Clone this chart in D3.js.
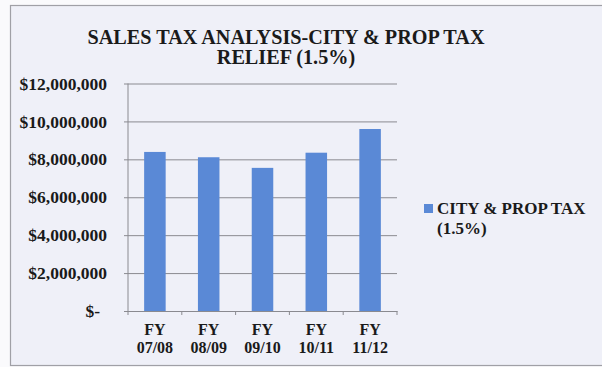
<!DOCTYPE html>
<html><head><meta charset="utf-8">
<script src="https://cdn.jsdelivr.net/npm/d3@7"></script>
<style>
html,body{margin:0;padding:0;background:#fafafc;}
svg{display:block;}
text{font-family:"Liberation Serif","Times New Roman",serif;font-weight:bold;fill:#1a1a1a;}
</style></head>
<body>
<svg id="chart" width="602" height="367"></svg>
<script>
const titleLines = ["SALES TAX ANALYSIS-CITY & PROP TAX", "RELIEF (1.5%)"];
const categories = [["FY","07/08"],["FY","08/09"],["FY","09/10"],["FY","10/11"],["FY","11/12"]];
const values = [8390000, 8110000, 7550000, 8350000, 9600000];
const yTicks = [0, 2000000, 4000000, 6000000, 8000000, 10000000, 12000000];
const legendLines = ["CITY & PROP TAX", "(1.5%)"];

(function(){
const svg = d3.select("#chart");
svg.append("rect").attr("x",10.5).attr("y",5.5).attr("width",600).attr("height",360)
  .attr("fill","#eff0f8").attr("stroke","#a0a0a6").attr("stroke-width",1.2);

const pLeft = 128, pRight = 397, pTop = 83.5, pBottom = 311;
const x = d3.scaleBand().domain(categories.map((d,i)=>i)).range([pLeft,pRight]).paddingInner(0.6).paddingOuter(0.3);
const xb = d3.scaleBand().domain(categories.map((d,i)=>i)).range([pLeft,pRight]);
const y = d3.scaleLinear().domain([0,12000000]).range([pBottom,pTop]);

// title
const t = svg.append("text").attr("text-anchor","middle").style("font-size","20.2px");
titleLines.forEach((l,i)=>t.append("tspan").attr("x",286).attr("y",44+i*20).text(l));

// gridlines + y labels
const fmt = d => d===0 ? "$-" : "$" + d3.format(",")(d);
const ya = d3.axisLeft(y).tickValues(yTicks).tickSize(-(pRight-pLeft)).tickPadding(0).tickFormat(fmt);
const yg = svg.append("g").attr("transform",`translate(${pLeft},0)`).call(ya);
yg.select(".domain").remove();
yg.selectAll(".tick line").attr("stroke","#8a8a90").attr("stroke-width",1).attr("x1",-4);
yg.selectAll(".tick text").attr("x",-21).style("font-size","17.5px").attr("fill","#1a1a1a")
  .attr("dx", d => d===0 ? -7 : 0);

// bars
svg.append("g").selectAll("rect").data(values).join("rect")
  .attr("x",(d,i)=>x(i)).attr("width",x.bandwidth())
  .attr("y",d=>y(d)).attr("height",d=>pBottom-y(d))
  .attr("fill","#5a89d6");

// axes lines
svg.append("line").attr("x1",pLeft).attr("x2",pLeft).attr("y1",pTop).attr("y2",pBottom).attr("stroke","#8a8a90");
const xa = d3.axisBottom(xb).tickSize(0).tickFormat("");
const xg = svg.append("g").attr("transform",`translate(0,${pBottom})`).call(xa);
xg.select(".domain").attr("stroke","#8a8a90");
const bounds = xb.domain().map(i=>xb(i)).concat([pRight]);
xg.selectAll("line.bt").data(bounds).join("line").attr("class","bt")
  .attr("x1",d=>d).attr("x2",d=>d).attr("y1",0).attr("y2",4).attr("stroke","#8a8a90");
categories.forEach((d,i)=>{
  d.forEach((l,j)=>xg.append("text").attr("class","cat").attr("text-anchor","middle")
    .style("font-size","16px").attr("x",xb(i)+xb.bandwidth()/2).attr("y",23.5+j*18.5).text(l));
});

// legend
svg.append("rect").attr("x",424).attr("y",204).attr("width",9).attr("height",9).attr("fill","#5a89d6");
legendLines.forEach((l,i)=>svg.append("text").style("font-size","17px").attr("x",437).attr("y",214+i*20).text(l));
})();
</script>
</body></html>
